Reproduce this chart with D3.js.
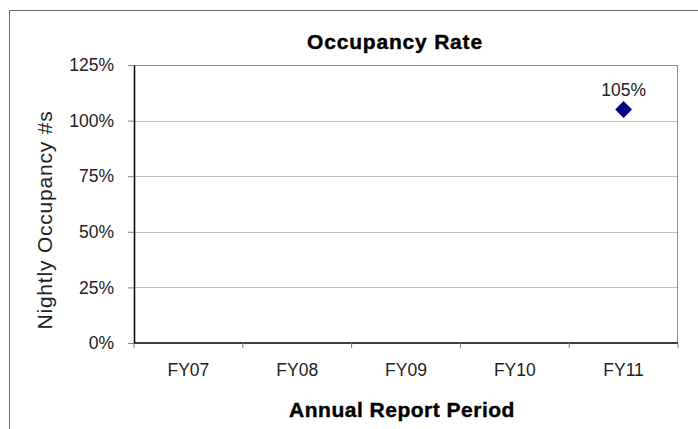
<!DOCTYPE html>
<html>
<head>
<meta charset="utf-8">
<script src="https://cdn.jsdelivr.net/npm/d3@7"></script>
<style>
  body { margin: 0; background: #fff; }
  text { font-family: "Liberation Sans", Arial, sans-serif; }
</style>
</head>
<body>
<svg id="chart" width="698" height="429"></svg>
<script>
const periods = ["FY07", "FY08", "FY09", "FY10", "FY11"];
const occupancy = [null, null, null, null, 105]; // only FY11 has a value
const yTicks = [0, 25, 50, 75, 100, 125];

const svg = d3.select("#chart");
const margin = { left: 134, right: 20, top: 65, bottom: 86 };
const width = 698 - margin.left - margin.right;
const height = 429 - margin.top - margin.bottom;

// outer chart border (cut off at right and bottom)
svg.append("path")
  .attr("d", "M9.5,429 V10.5 H698")
  .attr("fill", "none")
  .attr("stroke", "#6b6b6b")
  .attr("stroke-width", 1);

const x = d3.scaleBand().domain(periods).range([0, width]);
const y = d3.scaleLinear().domain([0, 125]).range([height, 0]);

const g = svg.append("g").attr("transform", `translate(${margin.left},${margin.top})`);

// gridlines
g.selectAll("line.grid")
  .data(yTicks.filter(t => t > 0 && t < 125))
  .join("line")
  .attr("class", "grid")
  .attr("x1", 0).attr("x2", width)
  .attr("y1", d => Math.round(y(d)) + 0.5)
  .attr("y2", d => Math.round(y(d)) + 0.5)
  .attr("stroke", "#c0c0c0");

// plot area border top/right
g.append("path")
  .attr("d", `M0,0.5 H${width - 0.5} V${height}`)
  .attr("fill", "none")
  .attr("stroke", "#8c8c8c");

// y axis
const yAxis = g.append("g")
  .call(d3.axisLeft(y).tickValues(yTicks).tickFormat(d => d + "%").tickSize(6).tickSizeOuter(0));
yAxis.select(".domain").attr("stroke", "#000").attr("stroke-width", 1.5);
yAxis.selectAll(".tick line").attr("stroke", "#808080");
yAxis.selectAll(".tick text")
  .attr("font-size", 17.5).attr("fill", "#222").attr("x", -20);

// x axis: ticks at category boundaries
const xAxisG = g.append("g").attr("transform", `translate(0,${height})`);
xAxisG.append("line")
  .attr("x1", 0).attr("x2", width)
  .attr("stroke", "#000").attr("stroke-width", 1.5);
const bounds = periods.map(p => x(p)).concat([width]);
xAxisG.selectAll("line.tk")
  .data(bounds)
  .join("line")
  .attr("class", "tk")
  .attr("x1", d => d).attr("x2", d => d)
  .attr("y1", 0).attr("y2", 5)
  .attr("stroke", "#808080");
xAxisG.selectAll("text.lbl")
  .data(periods)
  .join("text")
  .attr("class", "lbl")
  .attr("x", d => x(d) + x.bandwidth() / 2)
  .attr("y", 33)
  .attr("text-anchor", "middle")
  .attr("font-size", 17.5)
  .attr("fill", "#222")
  .text(d => d);

// data points
const pts = periods.map((p, i) => ({ period: p, value: occupancy[i] })).filter(d => d.value !== null);
const diamond = d3.symbol().type(d3.symbolDiamond2).size(180);
g.selectAll("path.pt")
  .data(pts)
  .join("path")
  .attr("class", "pt")
  .attr("d", diamond)
  .attr("transform", d => `translate(${x(d.period) + x.bandwidth() / 2},${y(d.value)})`)
  .attr("fill", "#000080");

g.selectAll("text.val")
  .data(pts)
  .join("text")
  .attr("class", "val")
  .attr("x", d => x(d.period) + x.bandwidth() / 2)
  .attr("y", d => y(d.value) - 13)
  .attr("text-anchor", "middle")
  .attr("font-size", 17.5)
  .attr("fill", "#222")
  .text(d => d.value + "%");

// titles
svg.append("text")
  .attr("x", 395).attr("y", 49)
  .attr("text-anchor", "middle")
  .attr("font-size", 21).attr("font-weight", "bold")
  .attr("letter-spacing", 0.8)
  .attr("stroke", "#000").attr("stroke-width", 0.4)
  .text("Occupancy Rate");

svg.append("text")
  .attr("x", 402).attr("y", 417)
  .attr("text-anchor", "middle")
  .attr("font-size", 21).attr("font-weight", "bold")
  .attr("letter-spacing", 0.5)
  .attr("stroke", "#000").attr("stroke-width", 0.4)
  .text("Annual Report Period");

svg.append("text")
  .attr("transform", `translate(52,220) rotate(-90)`)
  .attr("text-anchor", "middle")
  .attr("font-size", 21)
  .attr("letter-spacing", 0.8)
  .attr("fill", "#222")
  .text("Nightly Occupancy #s");
</script>
</body>
</html>
